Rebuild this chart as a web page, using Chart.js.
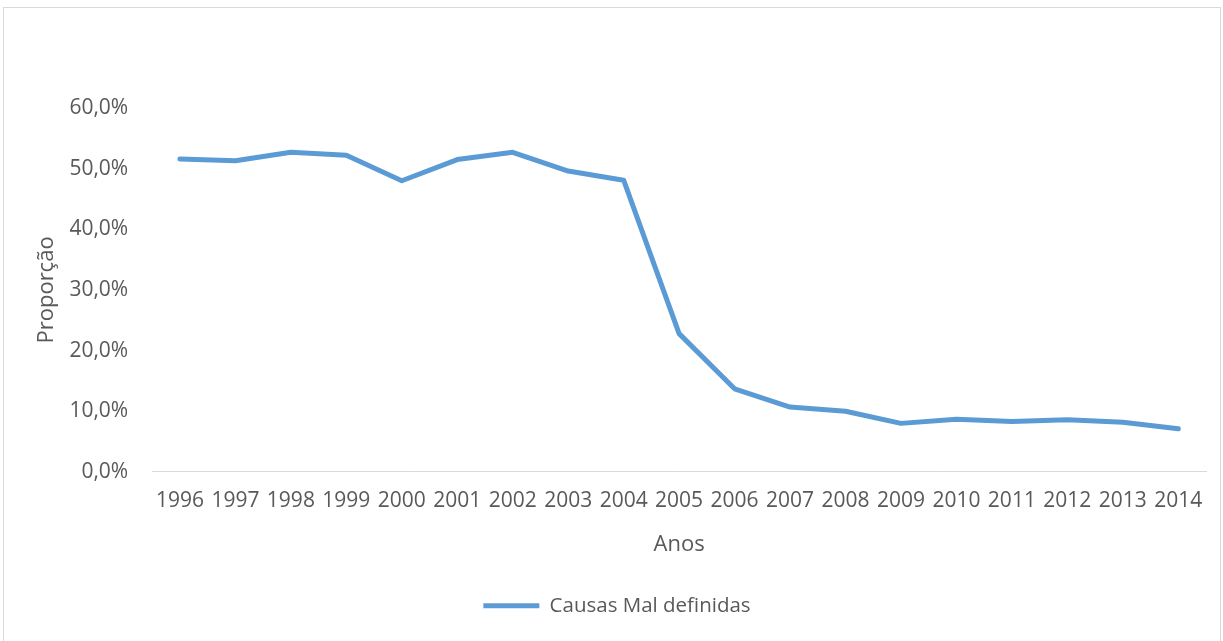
<!DOCTYPE html>
<html>
<head>
<meta charset="utf-8">
<script src="https://cdn.jsdelivr.net/npm/chart.js@4"></script>
<style>
  html, body { margin: 0; padding: 0; background: #fff; overflow: hidden; }
  .frame { position: absolute; left: 3px; top: 7px; width: 1216px; height: 700px; border: 1px solid #d9d9d9; }
  .wrap { position: absolute; left: 0; top: 0; width: 1223px; height: 641px; }
</style>
</head>
<body>
<div class="frame"></div>
<div class="wrap"><canvas id="line-chart" width="1223" height="641"></canvas></div>
<script>
// DADOS
const anos = [
  "1996", "1997", "1998", "1999", "2000", "2001", "2002", "2003", "2004", "2005",
  "2006", "2007", "2008", "2009", "2010", "2011", "2012", "2013", "2014",
];
const causasMalDefinidas = [
  51.6, 51.3, 52.7, 52.2, 48.0, 51.5, 52.7, 49.6, 48.1, 22.8,
  13.7, 10.7, 10.0, 8.0, 8.7, 8.3, 8.6, 8.2, 7.1,
];
const yTicks = [0, 10, 20, 30, 40, 50, 60];

const textColor = "#595959";
const fontFamily = "'Open Sans', 'Liberation Sans', sans-serif";

const lineChart = document.getElementById("line-chart");

new Chart(lineChart, {
  type: "line",
  data: {
    labels: anos,
    datasets: [
      {
        label: "Causas Mal definidas",
        data: causasMalDefinidas,
        borderColor: "#5B9BD5",
        backgroundColor: "#5B9BD5",
        borderWidth: 5,
        borderCapStyle: "round",
        borderJoinStyle: "round",
        pointRadius: 0,
        tension: 0,
      },
    ],
  },
  options: {
    responsive: false,
    animation: false,
    layout: {
      padding: { top: 108, left: 28, right: 17, bottom: 15 },
    },
    plugins: {
      tooltip: { enabled: false },
      legend: {
        display: true,
        position: "bottom",
        labels: {
          usePointStyle: true,
          pointStyle: "line",
          pointStyleWidth: 56,
          color: textColor,
          padding: 10,
          font: { family: fontFamily, size: 20.5 },
        },
      },
    },
    scales: {
      x: {
        offset: true,
        grid: { display: false, drawTicks: false },
        border: { display: true, color: "#d9d9d9", width: 1 },
        ticks: {
          color: textColor,
          autoSkip: false,
          maxRotation: 0,
          padding: 17,
          font: { family: fontFamily, size: 21 },
        },
        title: {
          display: true,
          text: "Anos",
          color: textColor,
          font: { family: fontFamily, size: 22 },
          padding: { top: 0, bottom: 28 },
        },
      },
      y: {
        min: 0,
        max: 60,
        afterBuildTicks: (axis) => {
          axis.ticks = yTicks.map((v) => ({ value: v }));
        },
        grid: { display: false, drawTicks: false },
        border: { display: false },
        ticks: {
          color: textColor,
          padding: 24,
          font: { family: fontFamily, size: 21 },
          callback: (v) => v.toFixed(1).replace(".", ",") + "%",
        },
        title: {
          display: true,
          text: "Proporção",
          color: textColor,
          font: { family: fontFamily, size: 22 },
          padding: { top: 6, bottom: -15 },
        },
      },
    },
  },
});
</script>
</body>
</html>
